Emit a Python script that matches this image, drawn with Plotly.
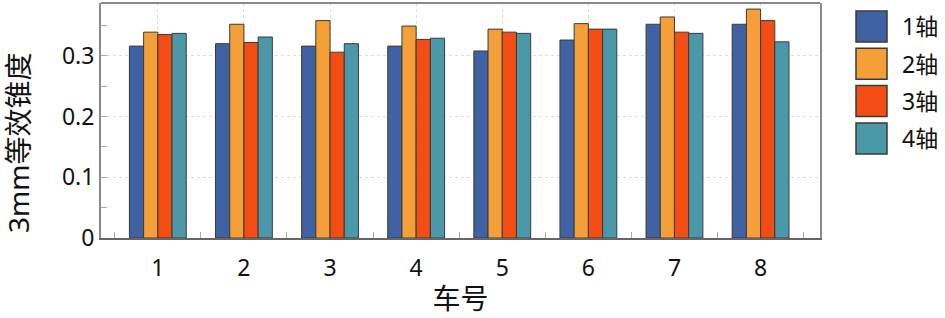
import plotly.graph_objects as go

cars = [1, 2, 3, 4, 5, 6, 7, 8]
car_labels = ["1", "2", "3", "4", "5", "6", "7", "8"]
series_names = ["1轴", "2轴", "3轴", "4轴"]
axle1 = [0.316, 0.320, 0.316, 0.316, 0.308, 0.326, 0.352, 0.352]
axle2 = [0.339, 0.352, 0.358, 0.349, 0.344, 0.353, 0.364, 0.377]
axle3 = [0.335, 0.322, 0.306, 0.327, 0.339, 0.344, 0.339, 0.358]
axle4 = [0.337, 0.331, 0.320, 0.329, 0.337, 0.344, 0.337, 0.323]
colors = ["#4062A4", "#F49F37", "#F24E14", "#4A98A8"]

FONT = "Noto Sans, Noto Sans CJK SC, sans-serif"

L, R, T, B = 101, 820, 3, 238
PW, PH = R - L, B - T

def px(x):
    return (x - L) / PW

def py(y):
    return 1 - (y - T) / PH

fig = go.Figure()
for name, vals, c in zip(series_names, [axle1, axle2, axle3, axle4], colors):
    fig.add_trace(go.Bar(x=cars, y=vals, name=name, marker=dict(color=c, line=dict(color="#3a3a3a", width=1)),
                         showlegend=False))

# custom legend with large squares
for i, (name, c) in enumerate(zip(series_names, colors)):
    y0 = 11 + i * 37.3
    fig.add_shape(type="rect", xref="paper", yref="paper",
                  x0=px(856), x1=px(887), y0=py(y0 + 31), y1=py(y0),
                  fillcolor=c, line=dict(color="#3a3a3a", width=1.5))
    fig.add_annotation(xref="paper", yref="paper", x=px(900), y=py(y0 + 15.5),
                       text=name, showarrow=False, xanchor="left", yanchor="middle",
                       font=dict(family=FONT, size=23, color="#111"))

# top border line
fig.add_shape(type="line", xref="paper", yref="paper", x0=0, x1=1, y0=1, y1=1,
              line=dict(color="#8a8a8a", width=2))

# y-axis title
fig.add_annotation(xref="paper", yref="paper", x=px(18), y=py(143), text="3mm等效锥度",
                   textangle=-90, showarrow=False, xanchor="center", yanchor="middle",
                   font=dict(family=FONT, size=28, color="#111"))

fig.update_layout(
    width=945, height=318,
    margin=dict(l=L, r=945 - R, t=T, b=318 - B, autoexpand=False),
    paper_bgcolor="white", plot_bgcolor="white",
    barmode="group", bargap=0.34, bargroupgap=0,
    font=dict(family=FONT, size=22, color="#111"),
)
fig.update_xaxes(
    automargin=False,
    range=[0.34, 8.69], tickvals=cars, ticktext=car_labels, ticks="",
    ticklabelstandoff=8,
    showgrid=True, gridcolor="#dddddd", griddash="dot", gridwidth=1,
    minor=dict(tickvals=[k + 0.5 for k in range(0, 9)], ticks="inside", ticklen=6, tickcolor="#aaaaaa", showgrid=False),
    showline=True, linecolor="#666666", linewidth=2, mirror=False,
    title=dict(text="车号", font=dict(size=28), standoff=8),
    tickfont=dict(size=23), zeroline=False,
)
fig.update_yaxes(
    automargin=False,
    range=[0, 0.387], tickvals=[0, 0.1, 0.2, 0.3], ticktext=["0", "0.1", "0.2", "0.3"],
    ticks="inside", ticklen=6, tickcolor="#aaaaaa",
    showgrid=True, gridcolor="#dddddd", griddash="dot", gridwidth=1,
    minor=dict(tickvals=[0.05, 0.15, 0.25, 0.35], ticks="inside", ticklen=6, tickcolor="#aaaaaa", showgrid=False),
    showline=True, linecolor="#8a8a8a", linewidth=2, mirror=True,
    tickfont=dict(size=23), zeroline=False,
)

fig.write_html("out.html", config={"displayModeBar": False},
               post_script="document.body.style.margin='0';document.body.style.padding='0';")
